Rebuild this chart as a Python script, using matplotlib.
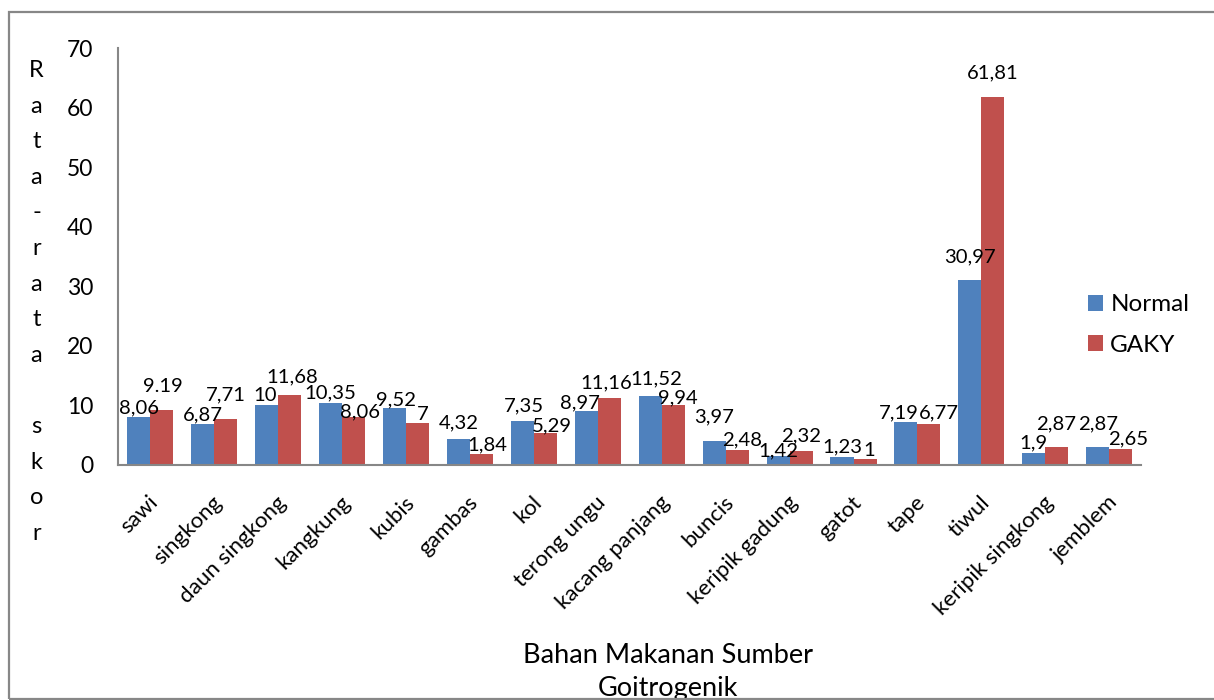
import matplotlib
matplotlib.use("Agg")
import matplotlib.pyplot as plt
import matplotlib.transforms as mtrans
import numpy as np
from matplotlib.patches import Rectangle

# ---- data ----
categories = ["sawi", "singkong", "daun singkong", "kangkung", "kubis", "gambas",
              "kol", "terong ungu", "kacang panjang", "buncis", "keripik gadung",
              "gatot", "tape", "tiwul", "keripik singkong", "jemblem"]
normal = [8.06, 6.87, 10, 10.35, 9.52, 4.32, 7.35, 8.97, 11.52, 3.97, 1.42,
          1.23, 7.19, 30.97, 1.9, 2.87]
gaky = [9.19, 7.71, 11.68, 8.06, 7, 1.84, 5.29, 11.16, 9.94, 2.48, 2.32,
        1, 6.77, 61.81, 2.87, 2.65]
normal_labels = ["8,06", "6,87", "10", "10,35", "9,52", "4,32", "7,35", "8,97",
                 "11,52", "3,97", "1,42", "1,23", "7,19", "30,97", "1,9", "2,87"]
gaky_labels = ["9.19", "7,71", "11,68", "8,06", "7", "1,84", "5,29", "11,16",
               "9,94", "2,48", "2,32", "1", "6,77", "61,81", "2,87", "2,65"]
yticks = [0, 10, 20, 30, 40, 50, 60, 70]

# ---- label placement style (pixel nudges, as in the reference) ----
n_dx = [0, 0, -1, 0, 2, 0, 2, -6, 6, 0, 0, 0, -7, 0, 0, 0]
n_dy = [3, 3, 4, 4, 2, 10, 9, 2, 11, 18, -1, 4, 3, 17, 4, 18]
g_dx = [1, 0, 3, 6, 5, 6, 6, -3, 5, 5, 0, 4, 10, 0, -1, 7]
g_dy = [17, 18, 12, -1, 2, 3, 1, 9, 2, 4, 9, 2, 5, 18, 18, 4]

plt.rcParams['font.family'] = ['Lato', 'DejaVu Sans']

BLUE = "#4F81BD"
RED = "#C0504D"
GRAY = "#878787"

W, H = 1214, 700
fig = plt.figure(figsize=(W/100, H/100), dpi=100)
left, right, top, bottom = 118.3, 1141.2, 48.3, 464.5
ax = fig.add_axes([left/W, 1-bottom/H, (right-left)/W, (bottom-top)/H])

x = np.arange(len(categories))
w = 0.36
b1 = ax.bar(x - w/2, normal, w, color=BLUE, label="Normal", edgecolor="none")
b2 = ax.bar(x + w/2, gaky, w, color=RED, label="GAKY", edgecolor="none")

PX = 0.72  # points per pixel
for rects, labs, dxs, dys in ((b1, normal_labels, n_dx, n_dy),
                              (b2, gaky_labels, g_dx, g_dy)):
    for rect, lab, dx, dy in zip(rects, labs, dxs, dys):
        ax.annotate(lab, (rect.get_x() + rect.get_width()/2, rect.get_height()),
                    xytext=(dx*PX, (dy + 0.5)*PX), textcoords="offset points",
                    ha="center", va="baseline", fontsize=14.6, color="black")

ax.set_xlim(-0.5, len(categories) - 0.5)
ax.set_ylim(0, 70)
ax.set_yticks(yticks)
ax.set_yticklabels([str(t) for t in yticks], fontsize=16.5)
ax.set_xticks(x)
ax.set_xticklabels(categories, rotation=45, ha="right", va="top",
                   rotation_mode="anchor", fontsize=16)
ax.tick_params(axis="both", length=0)
ax.tick_params(axis="x", pad=20)
ax.tick_params(axis="y", pad=18)
shift = mtrans.ScaledTranslation(-2/100, 0, fig.dpi_scale_trans)
for lbl in ax.get_xticklabels():
    lbl.set_transform(lbl.get_transform() + shift)
for s in ["top", "right"]:
    ax.spines[s].set_visible(False)
for s in ["left", "bottom"]:
    ax.spines[s].set_color(GRAY)
    ax.spines[s].set_linewidth(1.5)

# vertical stacked y label, one letter per line
ylab = "Rata-rata skor"
for i, ch in enumerate(ylab):
    fig.text(36.5/W, 1-(77 + i*35.6)/H, ch, ha="center", va="baseline",
             fontsize=17)

# x axis title
fig.text(668/W, 1-663/H, "Bahan Makanan Sumber", ha="center", va="baseline",
         fontsize=19.5)
fig.text(668/W, 1-696/H, "Goitrogenik", ha="center", va="baseline",
         fontsize=19.5)

leg = ax.legend(loc="center left", bbox_to_anchor=(1088/W, 1-325/H),
                bbox_transform=fig.transFigure, frameon=False, fontsize=17.5,
                handlelength=0.62, handleheight=0.62, handletextpad=0.3,
                labelspacing=0.8, borderpad=0, borderaxespad=0)

fig.patches.append(Rectangle((9/W, 1-699/H), 1.2, (699-12.3)/H,
                             transform=fig.transFigure, fill=False,
                             edgecolor=GRAY, linewidth=1.6, zorder=10))

fig.savefig("out.png", dpi=100)
